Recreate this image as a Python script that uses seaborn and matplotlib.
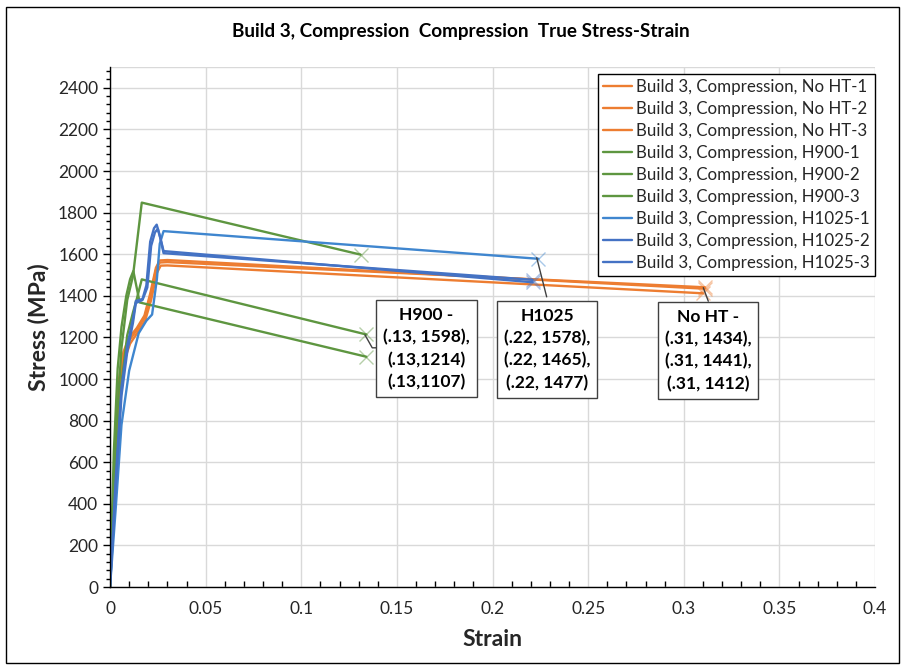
import pandas as pd
import seaborn as sns
import matplotlib.pyplot as plt
from matplotlib.patches import Rectangle
from matplotlib.ticker import MultipleLocator

# ---- data ----
series_names = [
    'Build 3, Compression, No HT-1', 'Build 3, Compression, No HT-2', 'Build 3, Compression, No HT-3',
    'Build 3, Compression, H900-1', 'Build 3, Compression, H900-2', 'Build 3, Compression, H900-3',
    'Build 3, Compression, H1025-1', 'Build 3, Compression, H1025-2', 'Build 3, Compression, H1025-3',
]

noht1_strain = [0, 0.002, 0.004, 0.007, 0.010, 0.014, 0.018, 0.021, 0.024, 0.026, 0.030, 0.311]
noht1_stress = [0, 520, 960, 1130, 1200, 1245, 1305, 1410, 1535, 1570, 1572, 1434]
noht2_strain = [0, 0.002, 0.004, 0.007, 0.010, 0.014, 0.018, 0.021, 0.024, 0.026, 0.030, 0.311]
noht2_stress = [0, 480, 930, 1110, 1185, 1235, 1295, 1395, 1525, 1560, 1562, 1441]
noht3_strain = [0, 0.002, 0.0045, 0.0075, 0.0105, 0.0145, 0.0185, 0.0215, 0.0245, 0.0265, 0.030, 0.310]
noht3_stress = [0, 450, 900, 1090, 1170, 1225, 1285, 1380, 1510, 1545, 1546, 1412]

h900_1_strain = [0, 0.003, 0.006, 0.009, 0.012, 0.0166, 0.131]
h900_1_stress = [0, 720, 1150, 1380, 1495, 1848, 1598]
h900_2_strain = [0, 0.003, 0.006, 0.009, 0.012, 0.014, 0.0166, 0.134]
h900_2_stress = [0, 560, 980, 1210, 1320, 1385, 1479, 1214]
h900_3_strain = [0, 0.002, 0.004, 0.006, 0.0085, 0.0105, 0.0122, 0.0155, 0.134]
h900_3_stress = [0, 650, 1050, 1250, 1400, 1480, 1519, 1368, 1107]

h1025_1_strain = [0, 0.003, 0.006, 0.010, 0.015, 0.019, 0.022, 0.0245, 0.026, 0.028, 0.224]
h1025_1_stress = [0, 380, 780, 1040, 1220, 1280, 1310, 1480, 1650, 1711, 1578]
h1025_2_strain = [0, 0.003, 0.006, 0.009, 0.012, 0.0135, 0.017, 0.019, 0.021, 0.023, 0.0244, 0.026, 0.028, 0.221]
h1025_2_stress = [0, 520, 960, 1160, 1290, 1375, 1385, 1450, 1660, 1725, 1742, 1690, 1615, 1465]
h1025_3_strain = [0, 0.003, 0.006, 0.009, 0.012, 0.0135, 0.017, 0.0195, 0.0215, 0.0235, 0.025, 0.0265, 0.028, 0.221]
h1025_3_stress = [0, 480, 920, 1130, 1270, 1365, 1380, 1440, 1640, 1705, 1722, 1670, 1605, 1477]

strains = [noht1_strain, noht2_strain, noht3_strain, h900_1_strain, h900_2_strain, h900_3_strain,
           h1025_1_strain, h1025_2_strain, h1025_3_strain]
stresses = [noht1_stress, noht2_stress, noht3_stress, h900_1_stress, h900_2_stress, h900_3_stress,
            h1025_1_stress, h1025_2_stress, h1025_3_stress]

orange, green, blue_light, blue = '#ED7D31', '#5E9640', '#3F86CF', '#4472C4'
colors = [orange, orange, orange, green, green, green, blue_light, blue, blue]

box_texts = ['H900 -\n(.13, 1598),\n(.13,1214)\n(.13,1107)',
             'H1025\n(.22, 1578),\n(.22, 1465),\n(.22, 1477)',
             'No HT -\n(.31, 1434),\n(.31, 1441),\n(.31, 1412)']

# ---- build long frame ----
frames = []
for name, x, y in zip(series_names, strains, stresses):
    frames.append(pd.DataFrame({'Strain': x, 'Stress': y, 'series': name}))
df = pd.concat(frames, ignore_index=True)

sns.set_theme(style='white')
plt.rcParams['font.family'] = ['Lato', 'DejaVu Sans']

fig = plt.figure(figsize=(9.04, 6.66), dpi=100)
ax = fig.add_axes([0.1217, 0.1186, 0.8463, 0.7808])

sns.lineplot(data=df, x='Strain', y='Stress', hue='series', hue_order=series_names,
             palette=dict(zip(series_names, colors)), sort=False, estimator=None,
             linewidth=1.7, ax=ax)

# end markers
for x, y, c in zip(strains, stresses, colors):
    ax.plot(x[-1], y[-1], marker='x', markersize=10, mew=1.0, color=c, alpha=0.45, zorder=4)

ax.set_xlim(0, 0.4)
ax.set_ylim(0, 2500)
ax.xaxis.set_minor_locator(MultipleLocator(0.01))
ax.yaxis.set_minor_locator(MultipleLocator(40))
ax.set_yticks(range(0, 2401, 200))
ax.set_xticks([0, 0.05, 0.1, 0.15, 0.2, 0.25, 0.3, 0.35, 0.4])
ax.set_xticklabels(['0', '0.05', '0.1', '0.15', '0.2', '0.25', '0.3', '0.35', '0.4'])
ax.grid(True, which='major', color='#D9D9D9', linewidth=1)
ax.axhline(2500, color='#D9D9D9', linewidth=1, zorder=0)
for s in ['top', 'right']:
    ax.spines[s].set_visible(False)
for s in ['left', 'bottom']:
    ax.spines[s].set_color('black')
    ax.spines[s].set_linewidth(1)
ax.tick_params(axis='x', which='major', direction='inout', length=8, width=1, color='black',
               labelsize=12.5, labelcolor='#262626', pad=6)
ax.tick_params(axis='x', which='minor', direction='in', length=4, width=1, color='black', bottom=True)
ax.tick_params(axis='y', which='major', direction='out', length=5, width=1, color='black',
               labelsize=12.5, labelcolor='#262626', left=True)
ax.tick_params(axis='y', which='minor', direction='out', length=3, width=1, color='black', left=True)

ax.set_xlabel('Strain', fontsize=16.5, fontweight='bold', labelpad=9)
ax.set_ylabel('Stress (MPa)', fontsize=16.5, fontweight='bold', labelpad=6)

leg = ax.legend(loc='upper right', bbox_to_anchor=(1.004, 0.994), fontsize=12.2, frameon=True,
                fancybox=False, handlelength=1.7, handletextpad=0.25, labelspacing=0.36,
                borderpad=0.3, borderaxespad=0.2)
leg.get_frame().set_edgecolor('black')
leg.get_frame().set_linewidth(1)
leg.get_frame().set_alpha(1)

# annotation boxes and leader lines
box_pos = [(0.1655, 1146), (0.2285, 1142), (0.3127, 1137)]
for (bx, by), t in zip(box_pos, box_texts):
    ax.text(bx, by, t, ha='center', va='center', fontsize=12.5, fontweight='bold', color='black',
            linespacing=1.45, zorder=6,
            bbox=dict(boxstyle='square,pad=0.4', fc='white', ec='#404040', lw=1))
ax.plot([0.1333, 0.1371, 0.1408], [1212, 1150, 1150], color='#404040', lw=1, zorder=5)
ax.plot([0.2231, 0.2283], [1583, 1395], color='#404040', lw=1, zorder=5)
ax.plot([0.3102, 0.3128], [1439, 1374], color='#404040', lw=1, zorder=5)

fig.text(0.51, 0.953, 'Build 3, Compression  Compression  True Stress-Strain', ha='center',
         va='center', fontsize=13.6, fontweight='bold', color='black')
fig.add_artist(Rectangle((0.007, 0.004), 0.987, 0.986, transform=fig.transFigure,
                         fill=False, ec='black', lw=1))

fig.savefig('out.png', dpi=100)
